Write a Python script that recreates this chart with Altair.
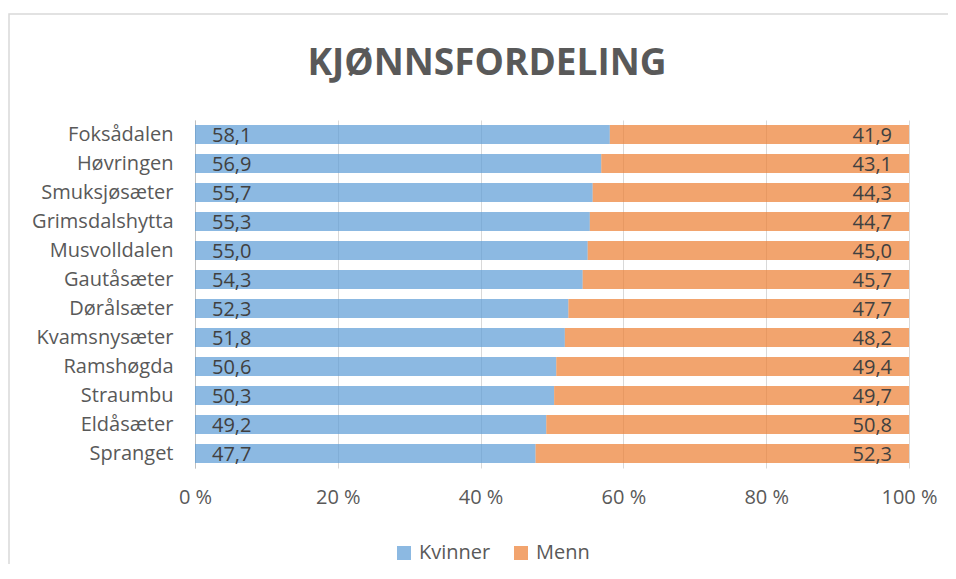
import altair as alt
import pandas as pd

places = ["Foksådalen", "Høvringen", "Smuksjøsæter", "Grimsdalshytta", "Musvolldalen",
          "Gautåsæter", "Dørålsæter", "Kvamsnysæter", "Ramshøgda", "Straumbu",
          "Eldåsæter", "Spranget"]
kvinner = [58.1, 56.9, 55.7, 55.3, 55.0, 54.3, 52.3, 51.8, 50.6, 50.3, 49.2, 47.7]
menn = [41.9, 43.1, 44.3, 44.7, 45.0, 45.7, 47.7, 48.2, 49.4, 49.7, 50.8, 52.3]
series = ["Kvinner", "Menn"]
colors = ["#5B9BD5", "#ED7D31"]
x_ticks = [0, 20, 40, 60, 80, 100]
title_text = "KJØNNSFORDELING"

rows = []
for p, k, m in zip(places, kvinner, menn):
    rows.append({"sted": p, "kjonn": "Kvinner", "andel": k, "ord": 0,
                 "label": f"{k:.1f}".replace(".", ",")})
    rows.append({"sted": p, "kjonn": "Menn", "andel": m, "ord": 1,
                 "label": f"{m:.1f}".replace(".", ",")})
df = pd.DataFrame(rows)

FONT = "Open Sans"

y_enc = alt.Y("sted:N", sort=places, title=None,
              scale=alt.Scale(paddingInner=0.34, paddingOuter=0.17),
              axis=alt.Axis(domain=True, domainColor="#BFBFBF", ticks=False,
                            labelFontSize=20, labelColor="#595959", labelFont=FONT,
                            labelPadding=22, grid=False))

bars = alt.Chart(df).mark_bar(opacity=0.7).encode(
    x=alt.X("andel:Q", stack="zero", title=None,
            scale=alt.Scale(domain=[0, 100], nice=False),
            axis=alt.Axis(values=x_ticks, labelExpr="datum.value + ' %'",
                          domain=False, ticks=False, grid=True, gridColor="#D9D9D9",
                          labelFontSize=20, labelColor="#595959", labelFont=FONT,
                          labelPadding=19, labelFlush=False, labelOverlap=False)),
    y=y_enc,
    color=alt.Color("kjonn:N", scale=alt.Scale(domain=series, range=colors),
                    legend=alt.Legend(title=None, orient="none", direction="horizontal",
                                      legendX=199, legendY=423, symbolType="square",
                                      symbolSize=196, symbolOpacity=0.7,
                                      symbolStrokeWidth=0,
                                      labelFontSize=20, labelColor="#595959",
                                      labelFont=FONT, columnPadding=20, labelOffset=5,
                                      padding=0)),
    order=alt.Order("ord:Q"),
)

left_text = alt.Chart(df).transform_filter("datum.kjonn == 'Kvinner'").mark_text(
    align="left", baseline="middle", dx=17, dy=1, fontSize=20, font=FONT, color="#404040"
).encode(x=alt.datum(0), y=alt.Y("sted:N", sort=places), text="label:N")

right_text = alt.Chart(df).transform_filter("datum.kjonn == 'Menn'").mark_text(
    align="right", baseline="middle", dx=-17, dy=1, fontSize=20, font=FONT, color="#404040"
).encode(x=alt.datum(100), y=alt.Y("sted:N", sort=places), text="label:N")

one = pd.DataFrame({"a": [0]})

border = alt.Chart(one).mark_rect(
    fill=None, stroke="#D9D9D9", strokeWidth=1.5
).encode(x=alt.value(-186), y=alt.value(-106), x2=alt.value(900), y2=alt.value(520))

title = alt.Chart(one).mark_text(
    text=title_text, fontSize=37, font=FONT, fontWeight="bold", color="#595959",
    align="center", baseline="alphabetic"
).encode(x=alt.value(292), y=alt.value(-45))

chart = alt.layer(border, title, bars, left_text, right_text).properties(
    width=714, height=348,
    autosize=alt.AutoSizeParams(type="none"),
    padding={"left": 187, "top": 112, "right": 39, "bottom": 96},
).configure_view(stroke=None)

chart.save("out.html", embed_options={"renderer": "svg", "actions": False})
